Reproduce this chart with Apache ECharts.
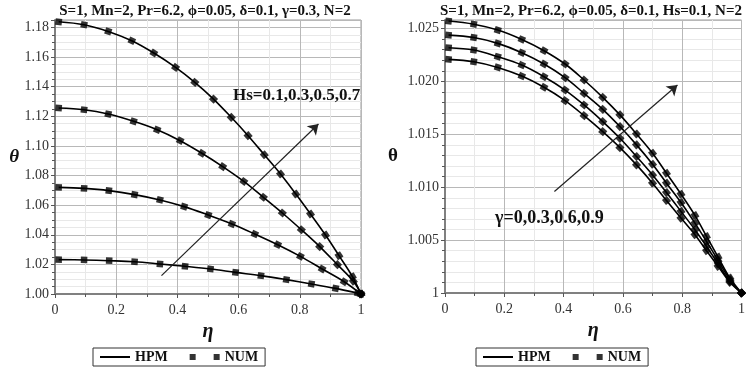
<!DOCTYPE html>
<html><head><meta charset="utf-8">
<script src="https://cdn.jsdelivr.net/npm/echarts@6/dist/echarts.min.js"></script>
<style>html,body{margin:0;padding:0;background:#fff}#c{width:748px;height:370px}</style>
</head><body><div id="c"></div>
<script>
// ---------- data ----------
const leftTitle = 'S=1, Mn=2, Pr=6.2, \u03d5=0.05, \u03b4=0.1, \u03b3=0.3, N=2';
const rightTitle = 'S=1, Mn=2, Pr=6.2, \u03d5=0.05, \u03b4=0.1, Hs=0.1, N=2';
const leftNote = 'Hs=0.1,0.3,0.5,0.7';
const rightNote = '\u03b3=0,0.3,0.6,0.9';
const seriesNames = ['HPM', 'NUM'];

// Left panel: Hs curves
const hs07X = [0.012,0.095,0.174,0.251,0.323,0.394,0.457,0.518,0.576,0.631,0.684,0.737,0.787,0.835,0.884,0.928,0.972,1.0];
const hs07Y = [1.1838,1.1818,1.1773,1.1710,1.1627,1.1530,1.1429,1.1316,1.1193,1.1069,1.0940,1.0810,1.0675,1.0540,1.0398,1.0259,1.0117,1.0000];
const hs05X = [0.012,0.095,0.174,0.257,0.334,0.409,0.480,0.548,0.617,0.681,0.743,0.805,0.865,0.923,0.975,1.0];
const hs05Y = [1.1256,1.1244,1.1215,1.1166,1.1109,1.1035,1.0950,1.0860,1.0760,1.0653,1.0547,1.0434,1.0320,1.0198,1.0086,1.0000];
const hs03X = [0.012,0.095,0.176,0.260,0.343,0.422,0.501,0.578,0.653,0.728,0.802,0.873,0.945,1.0];
const hs03Y = [1.0720,1.0713,1.0698,1.0671,1.0635,1.0590,1.0533,1.0473,1.0405,1.0333,1.0254,1.0169,1.0083,1.0000];
const hs01X = [0.012,0.095,0.177,0.260,0.343,0.425,0.508,0.590,0.673,0.756,0.838,0.917,0.989,1.0];
const hs01Y = [1.0232,1.0230,1.0225,1.0218,1.0203,1.0187,1.0169,1.0146,1.0124,1.0097,1.0068,1.0038,1.0006,1.0000];

// Right panel: gamma curves (shared eta)
const gamX = [0.012,0.097,0.178,0.259,0.334,0.405,0.469,0.532,0.590,0.646,0.700,0.747,0.796,0.843,0.882,0.921,0.961,1.0];
const g09Y = [1.0257,1.0254,1.02485,1.02396,1.0229,1.02164,1.02013,1.01849,1.01683,1.01503,1.01321,1.01132,1.00934,1.00733,1.00535,1.0034,1.00142,1.0];
const g06Y = [1.02437,1.02415,1.02359,1.02271,1.02164,1.02035,1.01887,1.01736,1.01573,1.014,1.01217,1.01038,1.00855,1.0066,1.00487,1.00308,1.00126,1.0];
const g03Y = [1.02318,1.02296,1.02233,1.02154,1.02044,1.01918,1.01777,1.0162,1.01462,1.0129,1.01116,1.0095,1.00771,1.00598,1.0044,1.00277,1.0011,1.0];
const g00Y = [1.02208,1.02186,1.02132,1.0205,1.01944,1.01818,1.01676,1.01525,1.01374,1.01211,1.01038,1.00874,1.00708,1.0055,1.004,1.00252,1.00101,1.0];

// annotation arrows (data coordinates)
const leftArrow = [[0.348, 1.0124], [0.861, 1.1148]];
const rightArrow = [[0.369, 1.00959], [0.784, 1.01966]];

// ---------- layout / style ----------
const FONT = '"Liberation Serif","Times New Roman",serif';
const G = [
  {left: 55, top: 20, width: 306, height: 274, ymin: 1.0, ymax: 1.185},
  {left: 445, top: 20, width: 297, height: 273, ymin: 1.0, ymax: 1.0258}
];

function numData(xs, ys, g) {
  const sx = g.width, sy = g.height / (g.ymax - g.ymin);
  return xs.map((x, i) => {
    const a = Math.max(0, i - 1), b = Math.min(xs.length - 1, i + 1);
    const ang = Math.atan2((ys[b] - ys[a]) * sy, (xs[b] - xs[a]) * sx) * 180 / Math.PI;
    return {value: [x, ys[i]], symbolRotate: ang};
  });
}
function hpm(xs, ys, gi) {
  return {name: seriesNames[0], type: 'line', xAxisIndex: gi, yAxisIndex: gi,
    data: xs.map((x, i) => [x, ys[i]]), smooth: 0.35, showSymbol: false, symbol: 'none',
    lineStyle: {color: '#000', width: 1.6}, itemStyle: {color: '#000'}, z: 3, silent: true};
}
function num(xs, ys, gi, extra) {
  return Object.assign({name: seriesNames[1], type: 'scatter', xAxisIndex: gi, yAxisIndex: gi,
    data: numData(xs, ys, G[gi]), symbol: 'rect', symbolSize: 6.5,
    itemStyle: {color: '#000'}, z: 4, silent: true}, extra || {});
}
function arrowSeries(pts, gi) {
  return {type: 'line', xAxisIndex: gi, yAxisIndex: gi, data: [], silent: true, z: 5,
    markLine: {silent: true, symbol: ['none', 'arrow'], symbolSize: 10,
      lineStyle: {color: '#222', width: 1.2, type: 'solid'}, label: {show: false},
      emphasis: {disabled: true}, animation: false,
      data: [[{coord: pts[0]}, {coord: pts[1]}]]}};
}
function xAxisCfg(gi) {
  return {type: 'value', gridIndex: gi, min: 0, max: 1, interval: 0.2,
    name: '\u03b7', nameLocation: 'middle', nameGap: 27,
    nameTextStyle: {fontFamily: FONT, fontSize: 20, fontWeight: 'bold', fontStyle: 'italic', color: '#111'},
    axisLine: {show: true, onZero: false, lineStyle: {color: '#808080', width: 2}},
    axisTick: {show: true, length: 4, lineStyle: {color: '#555'}},
    minorTick: {show: true, splitNumber: 2, length: 3, lineStyle: {color: '#555'}},
    axisLabel: {fontFamily: FONT, fontSize: 14, color: '#333', margin: 9},
    splitLine: {show: true, lineStyle: {color: '#b8b8b8', width: 1}},
    minorSplitLine: {show: true, lineStyle: {color: '#e8e8e8', width: 1}}};
}
function yAxisCfg(gi, interval, minorSplit, fmt, nameGap, italic) {
  return {type: 'value', gridIndex: gi, min: G[gi].ymin, max: G[gi].ymax, interval: interval,
    name: '\u03b8', nameLocation: 'middle', nameRotate: 0, nameGap: nameGap,
    nameTextStyle: {fontFamily: FONT, fontSize: 19, fontWeight: 'bold', fontStyle: italic ? 'italic' : 'normal', color: '#111'},
    axisLine: {show: true, lineStyle: {color: '#808080', width: 2}},
    axisTick: {show: true, length: 4, lineStyle: {color: '#555'}},
    minorTick: {show: true, splitNumber: minorSplit, length: 3, lineStyle: {color: '#555'}},
    axisLabel: {fontFamily: FONT, fontSize: 14, color: '#333', margin: 6, formatter: fmt, showMaxLabel: false},
    splitLine: {show: true, lineStyle: {color: '#b8b8b8', width: 1}},
    minorSplitLine: {show: true, lineStyle: {color: '#e8e8e8', width: 1}}};
}
function legendCfg(left) {
  return {left: left, top: 348, orient: 'horizontal', itemGap: 22, itemWidth: 30, itemHeight: 6,
    padding: [2, 7, 2, 7], borderColor: '#333', borderWidth: 1, selectedMode: false,
    textStyle: {fontFamily: FONT, fontSize: 14, fontWeight: 'bold', color: '#111'},
    data: [{name: seriesNames[0], icon: 'path://M0,0h30v2h-30z'},
           {name: seriesNames[1], icon: 'path://M0,0h6v6h-6z M24,0h6v6h-6z'}]};
}
function txt(text, x, y, size, align) {
  return {type: 'text', x: x, y: y, z: 100, silent: true,
    style: {text: text, font: 'bold ' + size + 'px ' + FONT, fill: '#111',
      align: align, verticalAlign: 'middle'}};
}

const chart = echarts.init(document.getElementById('c'), null, {renderer: 'canvas'});
chart.setOption({
  animation: false,
  backgroundColor: '#fff',
  grid: G.map(g => ({left: g.left, top: g.top, width: g.width, height: g.height,
    show: true, borderColor: '#9a9a9a', borderWidth: 1, containLabel: false})),
  xAxis: [xAxisCfg(0), xAxisCfg(1)],
  yAxis: [
    yAxisCfg(0, 0.02, 4, v => v.toFixed(2), 36, true),
    yAxisCfg(1, 0.005, 5, v => (Math.abs(v - 1) < 1e-9 ? '1' : v.toFixed(3)), 47, false)
  ],
  legend: [legendCfg(93), legendCfg(476)],
  graphic: [
    txt(leftTitle, 205, 11, 15, 'center'),
    txt(rightTitle, 591, 11, 15, 'center'),
    txt(leftNote, 233, 96, 17, 'left'),
    txt(rightNote, 495, 218, 18, 'left')
  ],
  series: [
    hpm(hs07X, hs07Y, 0), num(hs07X, hs07Y, 0),
    hpm(hs05X, hs05Y, 0), num(hs05X, hs05Y, 0),
    hpm(hs03X, hs03Y, 0), num(hs03X, hs03Y, 0),
    hpm(hs01X, hs01Y, 0), num(hs01X, hs01Y, 0),
    hpm(gamX, g09Y, 1), num(gamX, g09Y, 1),
    hpm(gamX, g06Y, 1), num(gamX, g06Y, 1),
    hpm(gamX, g03Y, 1), num(gamX, g03Y, 1),
    hpm(gamX, g00Y, 1), num(gamX, g00Y, 1),
    arrowSeries(leftArrow, 0), arrowSeries(rightArrow, 1)
  ]
});
</script></body></html>
